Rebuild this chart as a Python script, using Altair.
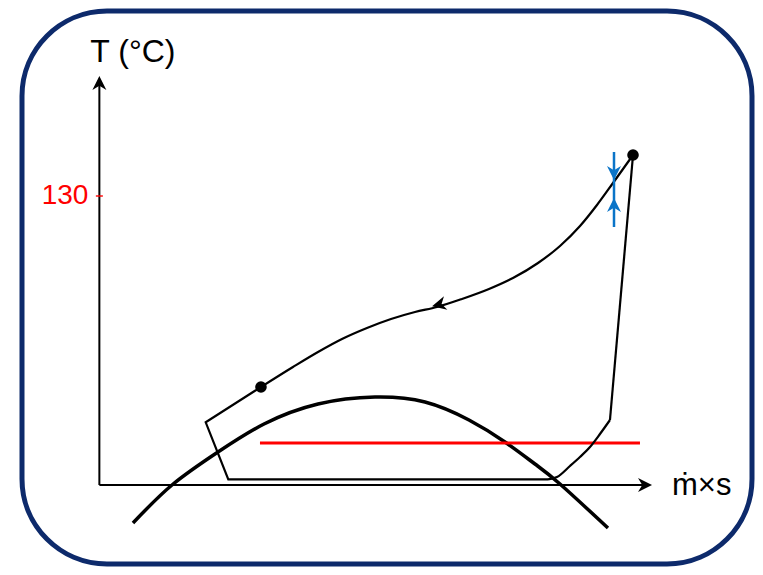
import altair as alt
import pandas as pd

# ---- data (x: m_dot*s in arbitrary units, t: temperature in degC) ----
dome_x = [6.08, 13.14, 21.46, 29.79, 39.56, 49.87, 58.92, 66.88, 73.39, 78.82, 83.35, 92.03]
dome_t = [5.54, 20.00, 32.56, 43.22, 50.83, 53.49, 51.59, 44.74, 36.37, 27.99, 20.38, 3.63]

upper_x = [29.24, 35.03, 39.56, 43.90, 48.42, 52.77, 57.11, 61.09, 65.61, 70.50, 74.84,
           79.37, 83.35, 86.97, 90.04, 92.94, 96.56]
upper_t = [57.30, 64.91, 70.62, 75.57, 79.76, 83.18, 85.85, 87.75, 90.80, 94.60, 98.79,
           104.50, 110.97, 118.58, 126.57, 134.95, 145.60]

poly_x = [29.24, 19.24, 23.33, 81.18]
poly_t = [57.30, 43.86, 22.17, 22.17]

bend_x = [81.18, 82.80, 85.15, 86.96, 88.77, 90.58, 92.39]
bend_t = [22.17, 23.04, 27.23, 30.66, 34.46, 39.41, 44.74]

rise_x = [92.39, 96.56]
rise_t = [44.74, 145.60]

dots_x = [29.24, 96.56]
dots_t = [57.30, 145.60]

cool_x = [29.06, 97.82]
cool_t = [35.99, 35.99]

pinch_x = [93.12, 93.12]
pinch_t = [146.75, 118.20]
pinch_down = (93.12, 136.09)
pinch_up = (93.12, 129.24)

flow_arrow = (60.2, 88.0)

axis_origin = (0.0, 20.0)
axis_x_end = 100.0
axis_t_end = 175.7
tick_value = 130

label_t = "T (°C)"
label_x = "ṁ×s"

xs = alt.Scale(domain=[-14, 118.09], nice=False, zero=False)
ys = alt.Scale(domain=[-10.07, 200.41], nice=False, zero=False)

FONT = "Liberation Sans"
ARROW = "M0,0 L-2,-1 L-1.4,0 L-2,1 Z"
BLUE = "#0A74C8"


def enc(ch, order=False):
    e = dict(x=alt.X("x:Q", scale=xs, axis=None), y=alt.Y("t:Q", scale=ys, axis=None))
    if order:
        e["order"] = alt.Order("i:Q")
    return ch.encode(**e)


def df(xv, tv):
    return pd.DataFrame({"x": xv, "t": tv, "i": list(range(len(xv)))})


def txt(xv, tv, s, **kw):
    return alt.Chart(pd.DataFrame({"x": [xv], "t": [tv], "s": [s]})).mark_text(**kw).encode(
        x=alt.X("x:Q", scale=xs, axis=None), y=alt.Y("t:Q", scale=ys, axis=None), text="s:N")


layers = []

# axes
ax_y = df([axis_origin[0], axis_origin[0]], [axis_origin[1], axis_t_end - 1.5])
ax_x = df([axis_origin[0], axis_x_end - 1.5], [axis_origin[1], axis_origin[1]])
layers.append(enc(alt.Chart(ax_y).mark_line(color="black", strokeWidth=2), True))
layers.append(enc(alt.Chart(ax_x).mark_line(color="black", strokeWidth=2), True))
layers.append(enc(alt.Chart(df([axis_origin[0]], [axis_t_end])).mark_point(
    shape=ARROW, size=196, filled=True, opacity=1, color="black", angle=270)))
layers.append(enc(alt.Chart(df([axis_x_end], [axis_origin[1]])).mark_point(
    shape=ARROW, size=196, filled=True, opacity=1, color="black", angle=0)))

# tick 130
layers.append(enc(alt.Chart(df([0.0], [tick_value])).mark_tick(
    orient="horizontal", size=7, thickness=2, color="#FF0000")))
layers.append(txt(0.0, tick_value, str(tick_value), align="right", baseline="middle", dx=-11,
                  fontSize=28, font=FONT, color="#FF0000"))

# axis labels
layers.append(txt(0.0, 184.8, label_t, align="left", baseline="middle", dx=-9,
                  fontSize=32, font=FONT, color="black"))
layers.append(txt(axis_x_end, axis_origin[1], label_x, align="left", baseline="middle", dx=20, dy=1,
                  fontSize=31, font=FONT, color="black"))

# saturation dome
layers.append(enc(alt.Chart(df(dome_x, dome_t)).mark_line(
    color="black", strokeWidth=3.5, interpolate="natural")))

# cooling source line (red)
layers.append(enc(alt.Chart(df(cool_x, cool_t)).mark_line(color="#FF0000", strokeWidth=3)))

# cycle
layers.append(enc(alt.Chart(df(upper_x, upper_t)).mark_line(
    color="black", strokeWidth=2.2, interpolate="monotone")))
layers.append(enc(alt.Chart(df(bend_x, bend_t)).mark_line(
    color="black", strokeWidth=2.2, interpolate="monotone")))
layers.append(enc(alt.Chart(df(poly_x, poly_t)).mark_line(
    color="black", strokeWidth=2.2, strokeJoin="miter"), True))
layers.append(enc(alt.Chart(df(rise_x, rise_t)).mark_line(
    color="black", strokeWidth=2.2), True))
layers.append(enc(alt.Chart(df(dots_x, dots_t)).mark_circle(
    size=135, color="black", opacity=1)))
layers.append(enc(alt.Chart(df([flow_arrow[0]], [flow_arrow[1]])).mark_point(
    shape=ARROW, size=196, filled=True, opacity=1, color="black", angle=166)))

# pinch indicator (blue)
layers.append(enc(alt.Chart(df(pinch_x, pinch_t)).mark_line(color=BLUE, strokeWidth=2.5), True))
layers.append(enc(alt.Chart(df([pinch_down[0]], [pinch_down[1]])).mark_point(
    shape=ARROW, size=196, filled=True, opacity=1, color=BLUE, angle=90)))
layers.append(enc(alt.Chart(df([pinch_up[0]], [pinch_up[1]])).mark_point(
    shape=ARROW, size=196, filled=True, opacity=1, color=BLUE, angle=270)))

chart = alt.layer(*layers).properties(
    width=730,
    height=553,
    autosize=alt.AutoSizeParams(type="none"),
    padding={"left": 14, "top": 3, "right": 3, "bottom": 3},
).configure_view(
    stroke="#0D2A6B", strokeWidth=5, cornerRadius=85
)

chart.save("out.html", embed_options={"renderer": "svg", "actions": False})
